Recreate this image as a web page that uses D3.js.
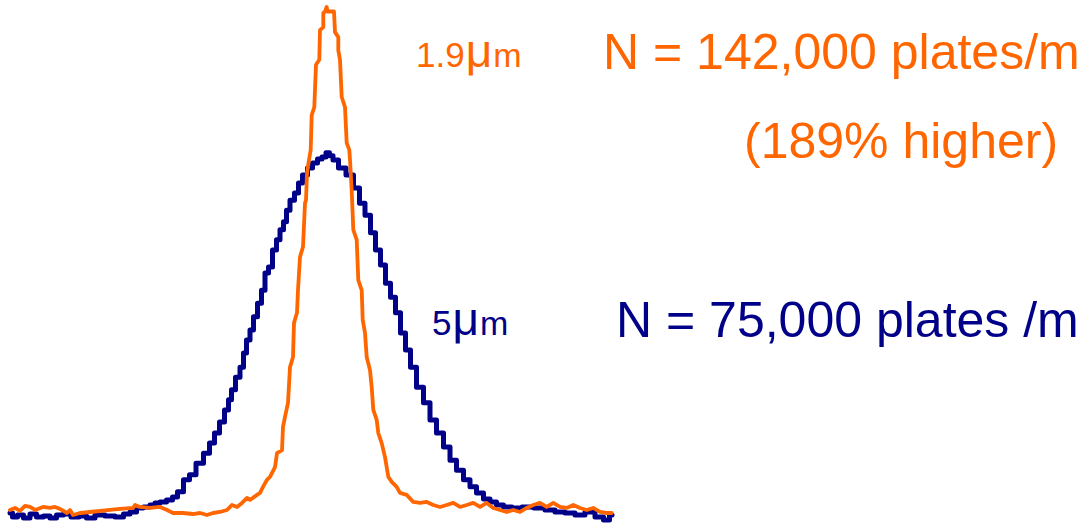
<!DOCTYPE html>
<html>
<head>
<meta charset="utf-8">
<script src="https://cdn.jsdelivr.net/npm/d3@7"></script>
<style>
  html, body { margin: 0; padding: 0; background: #ffffff; }
  svg { display: block; }
  text { font-family: "Liberation Sans", Arial, sans-serif; }
</style>
</head>
<body>
<div id="chart"></div>
<script>
// ---- Data (time in arbitrary units, signal as % of tallest peak) ----
const seriesNames = ["1.9μm", "5μm"];
const seriesColors = ["#FF6600", "#000088"];

// 1.9 µm particle column trace: [time, signal]
const trace19 = [
  [0,0.6],[5,1.0],[10,0.4],[15,1.4],[20,1.2],[25,0.6],[33,1.2],[40,1.0],[45,1.2],[50,0.8],
  [57,0],[60,0.6],[63,-0.4],[70,0],[80,0.2],[90,0.4],[100,0.6],[110,0.8],[123,1.0],[125,1.6],
  [130,1.2],[140,1.0],[150,1.2],[157,0.6],[163,0],[173,0],[183,-0.2],[190,0],[197,-0.4],[203,0],
  [210,0.2],[217,0.6],[222,1.6],[227,1.2],[232,2.0],[237,3.0],[240,2.6],[247,3.6],[250,4.0],[253,5.2],
  [257,6.6],[260,7.2],[265,9.1],[267,11.9],[272,12.5],[273,17.1],[275,19.1],[278,21.9],[280,29.0],[283,31.0],
  [284,37.8],[287,39.8],[288,44.3],[290,50.9],[293,52.9],[295,61.6],[296,62.2],[297,67.6],[299,70.2],[300.7,72.2],
  [301.7,79.1],[304.3,80.7],[306,89.1],[309.3,90.1],[310,96.0],[313.3,96.6],[313.3,99.4],[315,99.7],[316.7,100.6],[317.5,99.7],
  [324,99.7],[325,95.6],[328.3,94.6],[328.3,92.0],[330,90.1],[331.7,82.7],[335,80.7],[336.7,73.6],[339.3,72.2],[340,70.2],
  [341.7,64.2],[343.3,56.3],[346.7,54.3],[348.3,46.3],[351.7,44.3],[352.7,38.4],[355,35.8],[356.7,31.0],[360,28.4],[361.7,25.0],
  [363.3,20.5],[366.7,18.5],[368.3,15.9],[371.7,13.9],[375,11.1],[378.3,7.2],[381.7,6.2],[386.7,5.2],[390,4.0],[396.7,3.6],
  [403.3,2.2],[410,2.0],[416.7,2.2],[423.3,1.6],[430,1.2],[436.7,1.6],[443.3,2.0],[450,1.2],[456.7,1.6],[463.3,2.0],
  [470,1.2],[476.7,2.0],[483.3,1.0],[490,0.6],[496.7,0.2],[503.3,0.6],[510,0.2],[516.7,1.0],[523.3,1.6],[530,2.0],
  [536.7,1.2],[543.3,2.0],[550,1.2],[556.7,1.0],[563.3,1.6],[570,1.0],[576.7,0.6],[583.3,1.0],[590,0.2],[596.7,0],[601.7,0]
];

// 5 µm particle column trace: [time, signal]
const trace5 = [
  [0,0],[5,-0.8],[10,-0.4],[17,-1.0],[23,-0.2],[30,-0.8],[37,-0.6],[43,-1.0],[50,-0.4],[57,-0.2],
  [65,-0.8],[73,-0.6],[80,-1.0],[90,-0.4],[100,-0.6],[110,-0.8],[117,-0.2],[123,0.2],[130,1.0],[137,1.2],
  [143,1.6],[147,2.0],[153,2.2],[160,2.6],[165,3.2],[170,4.2],[177,6.6],[182,7.6],[190,9.9],[197,11.9],
  [202,13.9],[207,15.9],[212,18.1],[217,20.5],[220,22.5],[223,24.5],[228,27.0],[232,29.0],[235,31.8],[238,34.4],
  [242,36.4],[245,39.0],[250,41.7],[253,44.3],[257,47.7],[260,48.9],[265,52.3],[268,54.3],[272,56.3],[275,57.9],
  [278,60.2],[282,62.2],[287,63.6],[290,65.6],[295,67.2],[300,68.6],[305,69.6],[310,70.4],[314,70.8],[318,71.6],
  [321,71.0],[325,70.2],[332,68.6],[340,67.2],[347,64.6],[352,61.6],[358,59.2],[363,55.7],[368,52.3],[373,49.3],
  [378,45.7],[383,42.9],[388,39.8],[393,35.8],[398,32.4],[403,29.0],[410,25.0],[417,21.9],[423,18.5],[430,15.9],
  [437,13.1],[443,10.5],[450,8.5],[457,6.6],[463,5.2],[470,4.0],[477,2.8],[483,2.2],[490,1.6],[497,1.2],
  [507,1.0],[517,1.2],[530,1.0],[540,0.6],[550,0.2],[560,0],[570,-0.4],[580,0.2],[590,-0.8],[597,-1.4],[602,-0.4]
];

const plateLabels = ["N = 142,000 plates/m", "(189% higher)", "N = 75,000 plates /m"];

// ---- Drawing ----
const W = 1087, H = 525;
const svg = d3.select("#chart").append("svg").attr("width", W).attr("height", H);

const x = d3.scaleLinear().domain([0, 602]).range([10, 612]);
const y = d3.scaleLinear().domain([0, 100]).range([513, 10]);

const lineLin = d3.line().x(d => x(d[0])).y(d => y(d[1])).curve(d3.curveLinear);
const lineStep = d3.line().x(d => x(d[0])).y(d => y(d[1])).curve(d3.curveStep);

svg.append("path").datum(trace5)
  .attr("d", lineStep).attr("fill", "none")
  .attr("stroke", seriesColors[1]).attr("stroke-width", 5)
  .attr("stroke-linejoin", "round").attr("stroke-linecap", "round");

svg.append("path").datum(trace19)
  .attr("d", lineLin).attr("fill", "none")
  .attr("stroke", seriesColors[0]).attr("stroke-width", 3.8)
  .attr("stroke-linejoin", "round").attr("stroke-linecap", "round");

// series labels with enlarged mu
function muLabel(xPos, yPos, label, color) {
  const t = svg.append("text").attr("x", xPos).attr("y", yPos).attr("fill", color).attr("font-size", 35);
  const idx = label.indexOf("μ");
  t.append("tspan").text(label.slice(0, idx));
  t.append("tspan").attr("font-size", 46).attr("dx", 1).text("μ");
  t.append("tspan").attr("font-size", 34).attr("dx", 1).text(label.slice(idx + 1));
}
muLabel(416, 67, seriesNames[0], seriesColors[0]);
muLabel(432, 335, seriesNames[1], seriesColors[1]);

svg.append("text").attr("x", 603).attr("y", 69).attr("fill", seriesColors[0])
  .attr("font-size", 50).text(plateLabels[0]);
svg.append("text").attr("x", 744).attr("y", 158).attr("fill", seriesColors[0])
  .attr("font-size", 50).text(plateLabels[1]);
svg.append("text").attr("x", 616).attr("y", 337).attr("fill", seriesColors[1])
  .attr("font-size", 50).text(plateLabels[2]);
</script>
</body>
</html>
